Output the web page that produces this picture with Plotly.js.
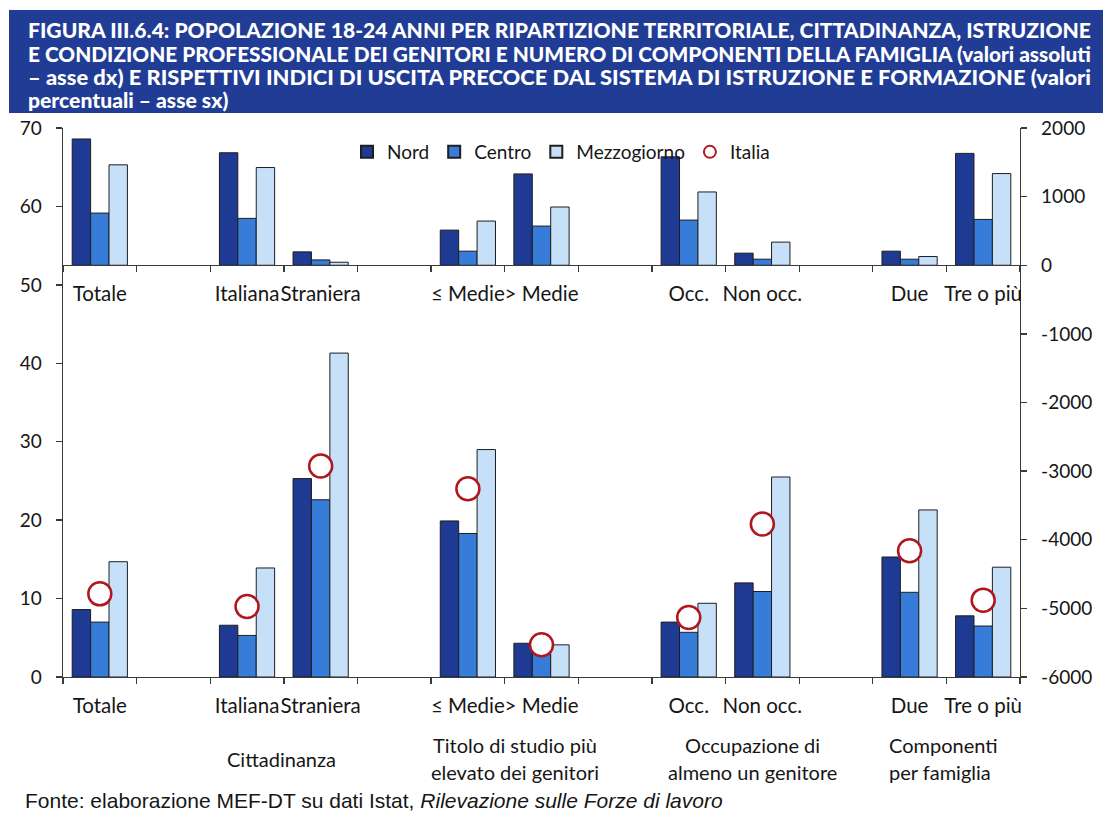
<!DOCTYPE html>
<html>
<head>
<meta charset="utf-8">
<script src="https://cdn.plot.ly/plotly-3.0.1.min.js"></script>
<style>
  html, body { margin: 0; padding: 0; background: #ffffff; }
  #chart { width: 1103px; height: 813px; }
</style>
</head>
<body>
<div id="chart"></div>
<script>
// Category slots along the x axis (empty strings are spacer slots between groups)
const categories = ['Totale', '', 'Italiana', 'Straniera', '', '≤ Medie', '> Medie', '', 'Occ.', 'Non occ.', '', 'Due', 'Tre o più'];

// Early leavers rate, % (left axis)
const nordPct   = [8.6, null, 6.6, 25.3, null, 19.9, 4.3, null, 7.0, 12.0, null, 15.3, 7.8];
const centroPct = [7.0, null, 5.3, 22.6, null, 18.3, 3.7, null, 5.7, 10.9, null, 10.8, 6.5];
const mezzPct   = [14.7, null, 13.9, 41.3, null, 29.0, 4.1, null, 9.4, 25.5, null, 21.3, 14.0];
const italiaPct = [10.6, null, 9.0, 26.9, null, 24.0, 4.1, null, 7.6, 19.5, null, 16.1, 9.8];

// Population 18-24, thousands (right axis)
const nordAbs   = [1840, null, 1639, 195, null, 512, 1331, null, 1580, 176, null, 205, 1630];
const centroAbs = [760, null, 683, 78, null, 205, 571, null, 658, 88, null, 88, 668];
const mezzAbs   = [1463, null, 1424, 44, null, 644, 849, null, 1068, 337, null, 127, 1336];

// Tick values of the two value axes
const leftTicks  = [0, 10, 20, 30, 40, 50, 60, 70];
const rightTicks = [-6000, -5000, -4000, -3000, -2000, -1000, 0, 1000, 2000];

// Group captions under the bottom axis (x in pixels of the page)
const groupLabels = [
  {lines: ['Cittadinanza'], px: 281, align: 'center'},
  {lines: ['Titolo di studio più', 'elevato dei genitori'], px: 515, align: 'center'},
  {lines: ['Occupazione di', 'almeno un genitore'], px: 752, align: 'center'},
  {lines: ['Componenti', 'per famiglia'], px: 887, align: 'left'}
];

const titleLines = [
  'FIGURA III.6.4: POPOLAZIONE 18-24 ANNI PER RIPARTIZIONE TERRITORIALE, CITTADINANZA, ISTRUZIONE',
  'E CONDIZIONE PROFESSIONALE DEI GENITORI E NUMERO DI COMPONENTI DELLA FAMIGLIA (valori assoluti',
  '– asse dx) E RISPETTIVI INDICI DI USCITA PRECOCE DAL SISTEMA DI ISTRUZIONE E FORMAZIONE (valori',
  'percentuali – asse sx)'
];
const sourceText = 'Fonte: elaborazione MEF-DT su dati Istat, <i>Rilevazione sulle Forze di lavoro</i>';

const slots = categories.map((_, i) => i);

// Styling
const COL_NORD = '#1f3a93', COL_CENTRO = '#387cd9', COL_MEZZ = '#c6e0fa', COL_ITALIA = '#b0171c';
const EDGE = '#1e1e1e';
const AX = '#3a3a3a';
const TXT = '#161616';
const FONT = 'Lato, "Open Sans", sans-serif';

// plot box in pixels
const W = 1103, H = 813, L = 63, R = 1020, T = 128, B = 677;
const px2x = px => (px - L) / (R - L);
const px2y = py => (B - py) / (B - T);

const barLine = {color: EDGE, width: 1};
function bar(name, y, color, xa, ya, show) {
  return {
    type: 'bar', name: name, x: slots, y: y, xaxis: xa, yaxis: ya,
    marker: {color: color, line: barLine},
    showlegend: show, legendgroup: name, hoverinfo: 'skip'
  };
}

const traces = [
  bar('Nord', nordPct, COL_NORD, 'x', 'y', true),
  bar('Centro', centroPct, COL_CENTRO, 'x', 'y', true),
  bar('Mezzogiorno', mezzPct, COL_MEZZ, 'x', 'y', true),
  {
    type: 'scatter', mode: 'markers', name: 'Italia', x: slots, y: italiaPct,
    xaxis: 'x', yaxis: 'y',
    marker: {symbol: 'circle', size: 23, color: '#ffffff', line: {color: COL_ITALIA, width: 2.5}},
    hoverinfo: 'skip'
  },
  bar('Nord', nordAbs, COL_NORD, 'x2', 'y2', false),
  bar('Centro', centroAbs, COL_CENTRO, 'x2', 'y2', false),
  bar('Mezzogiorno', mezzAbs, COL_MEZZ, 'x2', 'y2', false)
];

const catAxis = {
  range: [-0.5, categories.length - 0.5],
  tickmode: 'array', tickvals: slots, ticktext: categories,
  tickangle: 0,
  ticks: '', ticklabelstandoff: 10,
  showline: true, linecolor: AX, linewidth: 1.3,
  showgrid: false, zeroline: false, fixedrange: true,
  tickfont: {family: FONT, size: 20.5, color: TXT},
  minor: {ticks: 'outside', ticklen: 6, tickwidth: 1.3, tickcolor: AX,
          tickmode: 'linear', tick0: -0.5, dtick: 1, showgrid: false}
};

const valueAxis = {
  ticks: 'outside', ticklen: 6, tickwidth: 1.3, tickcolor: AX,
  showline: true, linecolor: AX, linewidth: 1.3, showgrid: false, zeroline: false,
  ticklabelstandoff: 10, tickfont: {family: FONT, size: 19, color: TXT}, fixedrange: true
};

const annotations = [];
titleLines.forEach((t, i) => {
  annotations.push({
    xref: 'paper', yref: 'paper', x: px2x(26), y: px2y([30, 53, 76.5, 99.5][i]),
    xanchor: 'left', yanchor: 'middle', align: 'left', showarrow: false,
    text: t, font: {family: 'Lato, "Liberation Sans", sans-serif', size: 21, color: '#ffffff', weight: 900}
  });
});
groupLabels.forEach(g => {
  g.lines.forEach((ln, j) => {
    annotations.push({
      xref: 'paper', yref: 'paper', x: px2x(g.px), y: px2y((g.lines.length === 1 ? 759 : 745 + j * 27)),
      xanchor: g.align === 'left' ? 'left' : 'center', yanchor: 'middle', align: g.align,
      showarrow: false, text: ln, font: {family: FONT, size: 20, color: TXT}
    });
  });
});
annotations.push({
  xref: 'paper', yref: 'paper', x: px2x(23), y: px2y(800),
  xanchor: 'left', yanchor: 'middle', align: 'left', showarrow: false,
  text: sourceText, font: {family: '"Liberation Sans", Arial, sans-serif', size: 21, color: TXT}
});

const layout = {
  width: W, height: H,
  margin: {l: L, r: W - R, t: T, b: H - B, pad: 0},
  paper_bgcolor: '#ffffff', plot_bgcolor: '#ffffff',
  font: {family: FONT, size: 19, color: TXT},
  barmode: 'group', bargap: 0.25, bargroupgap: 0,
  hovermode: false,
  showlegend: true,
  legend: {
    orientation: 'h', x: px2x(347), xanchor: 'left', y: px2y(152), yanchor: 'middle',
    bgcolor: 'rgba(0,0,0,0)', borderwidth: 0, itemsizing: 'constant',
    font: {family: FONT, size: 19, color: TXT}, traceorder: 'normal'
  },
  xaxis: Object.assign({}, catAxis, {anchor: 'y'}),
  xaxis2: Object.assign({}, catAxis, {overlaying: 'x', anchor: 'free', position: px2y(265), side: 'bottom'}),
  yaxis: Object.assign({}, valueAxis, {
    range: [0, 70], tickmode: 'array', tickvals: leftTicks, ticktext: leftTicks.map(String)
  }),
  yaxis2: Object.assign({}, valueAxis, {
    range: [-6000, 2000], tickmode: 'array', tickvals: rightTicks, ticktext: rightTicks.map(String),
    overlaying: 'y', side: 'right', anchor: 'x2'
  }),
  shapes: [{
    type: 'rect', xref: 'paper', yref: 'paper', layer: 'below',
    x0: px2x(9), x1: px2x(W), y0: px2y(113), y1: px2y(10),
    fillcolor: '#213c95', line: {width: 0}
  }],
  annotations: annotations
};

Plotly.newPlot('chart', traces, layout, {displayModeBar: false, staticPlot: true}).then(gd => {
  // Justify the banner lines: the first three fill the full width, the last keeps the same compression
  const full = 1090 - 27;
  let ratio = 1;
  titleLines.forEach((t, i) => {
    const el = gd.querySelector('g.annotation[data-index="' + i + '"] text.annotation-text');
    if (!el) return;
    const natural = el.getComputedTextLength();
    if (i < 3) {
      if (i === 0) ratio = full / natural;
      el.setAttribute('textLength', full);
    } else {
      el.setAttribute('textLength', natural * ratio);
    }
    el.setAttribute('lengthAdjust', 'spacingAndGlyphs');
  });
});
</script>
</body>
</html>
